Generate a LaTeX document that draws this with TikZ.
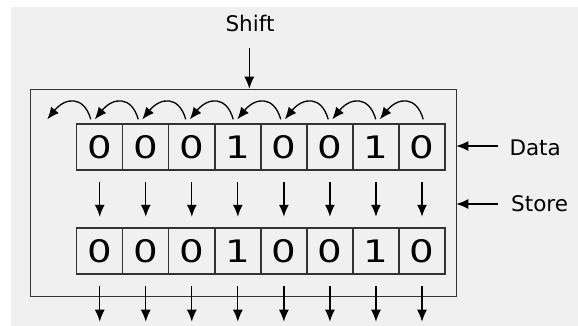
\documentclass[tikz,border=0pt]{standalone}
\usepackage{fontspec}
\setmainfont{DejaVu Sans}
\newfontfamily\digitfont[FakeStretch=1.25]{DejaVu Sans}
\usetikzlibrary{arrows.meta}
\definecolor{bg}{HTML}{F0F0F0}
\definecolor{ln}{HTML}{333333}
\tikzset{
  cell/.style={draw=ln, line width=1.4pt, minimum width=46.04pt, minimum height=46pt, inner sep=0pt, font=\digitfont\fontsize{31}{31}\selectfont},
  lbl/.style={inner sep=0pt, font=\fontsize{21.5}{21.5}\selectfont},
  arr/.style={line width=1.3pt, -{Latex[length=12pt,width=10pt]}},
  box/.style={draw=ln, line width=1.1pt, inner sep=0pt}
}
\begin{document}
\begin{tikzpicture}[x=1pt,y=-1pt]
\useasboundingbox (0,0) rectangle (578,326);
\fill[bg] (11,7) rectangle (578,326);
% outer box
\node[box, minimum width=426pt, minimum height=207.4pt] (reg) at (243.7,193) {};
% registers
\foreach [count=\k from 0] \d in {0,0,0,1,0,0,1,0} {
  \pgfmathsetmacro\cx{76.7+23.02+46.04*\k}
  \node[cell] (t\k) at (\cx,147) {\d};
  \node[cell] (b\k) at (\cx,250.85) {\d};
  \coordinate (o\k) at (\cx,321.7);
  \draw[arr, shorten <=11.7pt, shorten >=10.4pt] (t\k.south) -- (b\k.north);
  \draw[arr, shorten <=11.7pt] (b\k.south) -- (o\k);
}
% shift arcs
\foreach \i in {0,...,7} {
  \pgfmathsetmacro\sx{90.7+47.5*\i}
  \coordinate (s\i) at (\sx,119.3);
  \coordinate (e\i) at (\sx-43.4,119.3);
  \draw[arr] (s\i) .. controls ([xshift=-6.7pt,yshift=24pt]s\i) and ([xshift=18pt,yshift=22pt]e\i) .. (e\i);
}
% labels
\node[lbl, anchor=base] (shift) at (250,31.7) {Shift};
\coordinate (sh) at (249.3,47.7);
\draw[arr] (sh) -- (sh |- reg.north);
\node[lbl, anchor=base west] (data) at (509.3,156) {Data};
\coordinate (dt) at (498.3,146);
\draw[arr] (dt) -- ([xshift=-1pt]dt -| reg.east);
\node[lbl, anchor=base west] (store) at (511,211.5) {Store};
\coordinate (st) at (498.3,204);
\draw[arr] (st) -- ([xshift=-1pt]st -| reg.east);
\end{tikzpicture}
\end{document}
